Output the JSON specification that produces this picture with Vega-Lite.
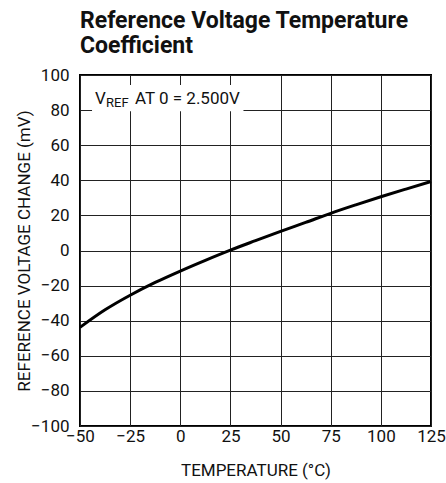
{
  "$schema": "https://vega.github.io/schema/vega-lite/v6.json",
  "autosize": "none",
  "padding": {"left": 80, "top": 75, "right": 15, "bottom": 57},
  "width": 351,
  "height": 351,
  "background": "white",
  "title": {
    "text": ["Reference Voltage Temperature", "Coefficient"],
    "anchor": "start",
    "frame": "group",
    "font": "Roboto",
    "fontSize": 23,
    "fontWeight": "bold",
    "lineHeight": 25,
    "color": "#111",
    "offset": 8,
    "dx": 0
  },
  "config": {
    "font": "Roboto",
    "view": {"stroke": "#000", "strokeWidth": 2},
    "axis": {
      "domain": false,
      "ticks": false,
      "tickSize": 0,
      "grid": true,
      "gridColor": "#222",
      "gridWidth": 1,
      "gridOpacity": 1,
      "labelFont": "Roboto",
      "labelFontSize": 17,
      "labelColor": "#111",
      "labelOverlap": false,
      "labelBound": false,
      "labelFlush": false,
      "titleFont": "Roboto",
      "titleFontSize": 17,
      "titleFontWeight": "normal",
      "titleColor": "#111"
    }
  },
  "datasets": {
    "curve": [
      {"t": -50, "v": -43.8},
      {"t": -37.5, "v": -33.8},
      {"t": -25, "v": -25.5},
      {"t": -12.5, "v": -18.2},
      {"t": 0, "v": -11.7},
      {"t": 12.5, "v": -5.6},
      {"t": 25, "v": 0.2},
      {"t": 37.5, "v": 5.6},
      {"t": 50, "v": 10.9},
      {"t": 62.5, "v": 16},
      {"t": 75, "v": 21.2},
      {"t": 87.5, "v": 26},
      {"t": 100, "v": 30.6},
      {"t": 112.5, "v": 35},
      {"t": 125, "v": 39.3}
    ]
  },
  "layer": [
    {
      "data": {"name": "curve"},
      "mark": {"type": "line", "color": "#000", "strokeWidth": 3, "interpolate": "monotone"},
      "encoding": {
        "x": {
          "field": "t", "type": "quantitative",
          "scale": {"domain": [-50, 125], "nice": false, "zero": false},
          "axis": {"values": [-50, -25, 0, 25, 50, 75, 100, 125], "tickCount": 8, "title": "TEMPERATURE (°C)", "labelPadding": 2, "titlePadding": 18, "labelOverlap": false, "labelExpr": "replace(datum.label, '-', '−')"}
        },
        "y": {
          "field": "v", "type": "quantitative",
          "scale": {"domain": [-100, 100], "nice": false, "zero": false},
          "axis": {"values": [-100, -80, -60, -40, -20, 0, 20, 40, 60, 80, 100], "tickCount": 11, "title": "REFERENCE VOLTAGE CHANGE (mV)", "labelPadding": 11, "titlePadding": -3, "labelOverlap": false, "labelExpr": "replace(datum.label, '-', '−')"}
        }
      }
    },
    {
      "data": {"values": [{"x1": -44, "x2": 31.5, "y1": 94.3, "y2": 79.3}]},
      "mark": {"type": "rect", "fill": "white", "stroke": null},
      "encoding": {
        "x": {"field": "x1", "type": "quantitative"},
        "x2": {"field": "x2"},
        "y": {"field": "y1", "type": "quantitative"},
        "y2": {"field": "y2"}
      }
    },
    {
      "data": {"values": [{"x": -42.5, "y": 83.5, "label": "V"}, {"x": -22.6, "y": 83.5, "label": "AT 0 = 2.500V"}]},
      "mark": {"type": "text", "align": "left", "baseline": "alphabetic", "fontSize": 17, "color": "#111", "font": "Roboto"},
      "encoding": {
        "x": {"field": "x", "type": "quantitative"},
        "y": {"field": "y", "type": "quantitative"},
        "text": {"field": "label"}
      }
    },
    {
      "data": {"values": [{"x": -37, "y": 81.7, "label": "REF"}]},
      "mark": {"type": "text", "align": "left", "baseline": "alphabetic", "fontSize": 13, "color": "#111", "font": "Roboto"},
      "encoding": {
        "x": {"field": "x", "type": "quantitative"},
        "y": {"field": "y", "type": "quantitative"},
        "text": {"field": "label"}
      }
    }
  ]
}
